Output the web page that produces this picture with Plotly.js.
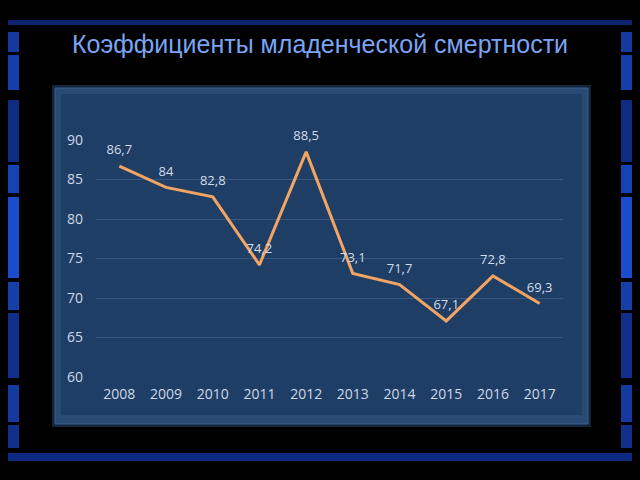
<!DOCTYPE html>
<html>
<head>
<meta charset="utf-8">
<script src="https://cdn.plot.ly/plotly-3.0.1.min.js"></script>
<style>html,body{margin:0;padding:0;background:#000;}#chart{width:640px;height:480px;}</style>
</head>
<body>
<div id="chart"></div>
<script>
const years = ['2008','2009','2010','2011','2012','2013','2014','2015','2016','2017'];
const rates = [86.7, 84, 82.8, 74.2, 88.5, 73.1, 71.7, 67.1, 72.8, 69.3];
const labels = ['86,7','84','82,8','74,2','88,5','73,1','71,7','67,1','72,8','69,3'];
const yTicks = [60, 65, 70, 75, 80, 85, 90];
const titleText = 'Коэффициенты младенческой смертности';

const W = 640, H = 480;
const px = x => x / W;
const py = y => 1 - y / H;

const shapes = [];
// slide decoration: horizontal bars
shapes.push({type:'rect', xref:'paper', yref:'paper', layer:'below', x0:px(8), x1:px(632), y0:py(25), y1:py(20), fillcolor:'#0b2470', line:{width:0}});
shapes.push({type:'rect', xref:'paper', yref:'paper', layer:'below', x0:px(8), x1:px(632), y0:py(461), y1:py(453), fillcolor:'#0c2a82', line:{width:0}});
// vertical segments
const segs = [[32,52,'#143aa0'],[55,90,'#153eaa'],[100,162,'#0e2c80'],[165,193,'#1643b4'],[197,278,'#1a4ccc'],[282,310,'#153ea8'],[313,378,'#102f8a'],[385,422,'#143aa0'],[425,448,'#10308c']];
segs.forEach(s => {
  shapes.push({type:'rect', xref:'paper', yref:'paper', layer:'below', x0:px(8), x1:px(19), y0:py(s[1]), y1:py(s[0]), fillcolor:s[2], line:{width:0}});
  shapes.push({type:'rect', xref:'paper', yref:'paper', layer:'below', x0:px(621), x1:px(632), y0:py(s[1]), y1:py(s[0]), fillcolor:s[2], line:{width:0}});
});
// chart panel
shapes.push({type:'rect', xref:'paper', yref:'paper', layer:'below', x0:px(52), x1:px(591), y0:py(427), y1:py(85), fillcolor:'#13243a', line:{width:0}});
shapes.push({type:'rect', xref:'paper', yref:'paper', layer:'below', x0:px(55), x1:px(588), y0:py(424), y1:py(88), fillcolor:'#294a72', line:{color:'#3d6088', width:1}});
shapes.push({type:'rect', xref:'paper', yref:'paper', layer:'below', x0:px(61), x1:px(582), y0:py(415), y1:py(94), fillcolor:'#1f3e66', line:{width:0}});

const trace = {
  x: years, y: rates, text: labels,
  type: 'scatter', mode: 'lines+markers+text',
  line: {color:'#f2a462', width:3},
  marker: {size:12, opacity:0, color:'#f2a462'},
  textposition: 'top center',
  textfont: {family:'Open Sans, sans-serif', size:13, color:'#d2dcea'},
  hoverinfo: 'none', cliponaxis: false
};

const layout = {
  width: W, height: H,
  margin: {l:0, r:0, t:0, b:0},
  paper_bgcolor: '#000000',
  plot_bgcolor: 'rgba(0,0,0,0)',
  showlegend: false,
  title: {text: titleText, x:0.5, xanchor:'center', y: py(44), yanchor:'middle', yref:'paper',
          font:{family:'Liberation Sans, Arial, sans-serif', size:25, color:'#7aa4f5'}},
  xaxis: {
    domain: [px(96), px(563)],
    type: 'category', range: [-0.5, 9.5], showgrid:false, zeroline:false, showline:false, ticks:'',
    tickfont: {family:'Open Sans, sans-serif', size:14, color:'#cdd8e8'},
    ticklabelstandoff: 7
  },
  yaxis: {
    domain: [py(377), py(140)],
    range: [60, 90], tickvals: yTicks, ticktext: yTicks.map(String),
    showgrid:true, gridcolor:'#375780', gridwidth:1, zeroline:false, showline:false, ticks:'',
    tickfont: {family:'Open Sans, sans-serif', size:14, color:'#cdd8e8'},
    ticklabelstandoff: 12
  },
  shapes: shapes
};

Plotly.newPlot('chart', [trace], layout, {displayModeBar:false, staticPlot:true});
</script>
</body>
</html>
